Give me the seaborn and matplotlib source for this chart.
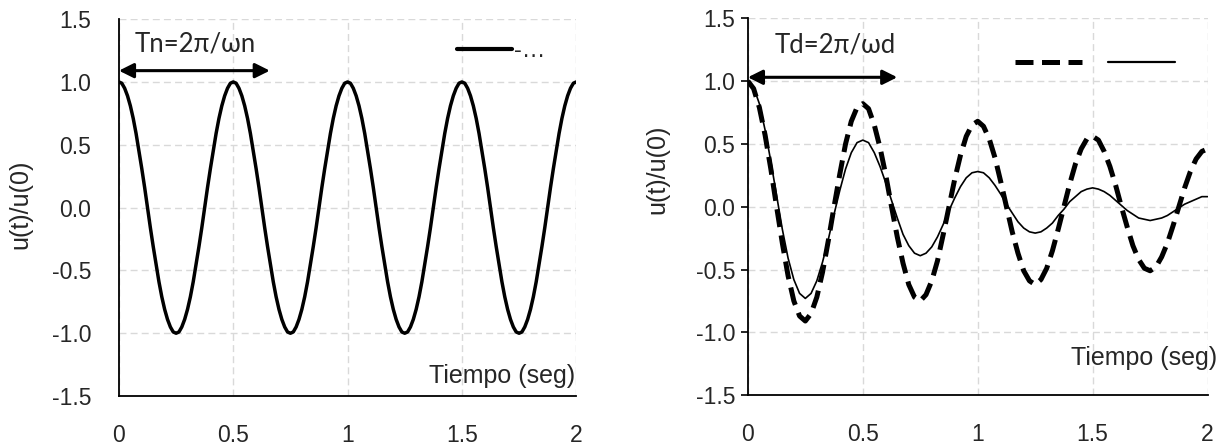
import numpy as np
import pandas as pd
import seaborn as sns
import matplotlib.pyplot as plt
from matplotlib.lines import Line2D

# time samples
tiempo_fino = np.round(np.linspace(0, 2, 161), 4)   # every 0.0125 s
tiempo = np.round(np.linspace(0, 2, 81), 3)         # every 0.025 s

# undamped free vibration (left)
u_libre = [1.00, 0.99, 0.95, 0.89, 0.81, 0.71, 0.59, 0.45, 0.31, 0.16,
           0.00, -0.16, -0.31, -0.45, -0.59, -0.71, -0.81, -0.89, -0.95, -0.99,
           -1.00, -0.99, -0.95, -0.89, -0.81, -0.71, -0.59, -0.45, -0.31, -0.16,
           0.00, 0.16, 0.31, 0.45, 0.59, 0.71, 0.81, 0.89, 0.95, 0.99,
           1.00, 0.99, 0.95, 0.89, 0.81, 0.71, 0.59, 0.45, 0.31, 0.16,
           0.00, -0.16, -0.31, -0.45, -0.59, -0.71, -0.81, -0.89, -0.95, -0.99,
           -1.00, -0.99, -0.95, -0.89, -0.81, -0.71, -0.59, -0.45, -0.31, -0.16,
           0.00, 0.16, 0.31, 0.45, 0.59, 0.71, 0.81, 0.89, 0.95, 0.99,
           1.00, 0.99, 0.95, 0.89, 0.81, 0.71, 0.59, 0.45, 0.31, 0.16,
           0.00, -0.16, -0.31, -0.45, -0.59, -0.71, -0.81, -0.89, -0.95, -0.99,
           -1.00, -0.99, -0.95, -0.89, -0.81, -0.71, -0.59, -0.45, -0.31, -0.16,
           0.00, 0.16, 0.31, 0.45, 0.59, 0.71, 0.81, 0.89, 0.95, 0.99,
           1.00, 0.99, 0.95, 0.89, 0.81, 0.71, 0.59, 0.45, 0.31, 0.16,
           0.00, -0.16, -0.31, -0.45, -0.59, -0.71, -0.81, -0.89, -0.95, -0.99,
           -1.00, -0.99, -0.95, -0.89, -0.81, -0.71, -0.59, -0.45, -0.31, -0.16,
           0.00, 0.16, 0.31, 0.45, 0.59, 0.71, 0.81, 0.89, 0.95, 0.99,
           1.00]

# lightly damped (right, dashed)
u_amort_baja = [1.00, 0.94, 0.79, 0.57, 0.30, 0.00, -0.29, -0.55, -0.75, -0.87,
                -0.91, -0.85, -0.72, -0.52, -0.27, 0.00, 0.26, 0.50, 0.68, 0.79,
                0.82, 0.78, 0.65, 0.47, 0.25, 0.00, -0.24, -0.45, -0.62, -0.72,
                -0.75, -0.70, -0.59, -0.43, -0.22, 0.00, 0.22, 0.41, 0.56, 0.65,
                0.68, 0.64, 0.54, 0.39, 0.20, 0.00, -0.20, -0.37, -0.51, -0.59,
                -0.62, -0.58, -0.49, -0.35, -0.18, 0.00, 0.18, 0.34, 0.46, 0.54,
                0.56, 0.53, 0.44, 0.32, 0.17, 0.00, -0.16, -0.31, -0.42, -0.49,
                -0.51, -0.48, -0.40, -0.29, -0.15, 0.00, 0.15, 0.28, 0.38, 0.44,
                0.46]

# more damped (right, thin solid)
u_amort_alta = [1.00, 0.95, 0.82, 0.61, 0.36, 0.09, -0.18, -0.41, -0.58, -0.69,
                -0.73, -0.69, -0.59, -0.44, -0.26, -0.06, 0.13, 0.30, 0.43, 0.51,
                0.53, 0.51, 0.43, 0.32, 0.19, 0.05, -0.09, -0.22, -0.31, -0.37,
                -0.39, -0.37, -0.32, -0.24, -0.14, -0.03, 0.07, 0.16, 0.23, 0.27,
                0.28, 0.27, 0.23, 0.17, 0.10, 0.02, -0.05, -0.12, -0.17, -0.20,
                -0.21, -0.20, -0.17, -0.13, -0.07, -0.02, 0.04, 0.08, 0.12, 0.14,
                0.15, 0.14, 0.12, 0.09, 0.05, 0.01, -0.03, -0.06, -0.09, -0.10,
                -0.11, -0.10, -0.09, -0.07, -0.04, -0.01, 0.02, 0.04, 0.06, 0.08,
                0.08]

x_ticks = [0, 0.5, 1, 1.5, 2]
x_labels = ["0", "0.5", "1", "1.5", "2"]
y_ticks = [-1.5, -1.0, -0.5, 0.0, 0.5, 1.0, 1.5]
y_labels = ["-1.5", "-1.0", "-0.5", "0.0", "0.5", "1.0", "1.5"]

sns.set_style("white")
plt.rcParams['font.family'] = ['Liberation Sans', 'DejaVu Sans']
plt.rcParams['axes.unicode_minus'] = False

fig = plt.figure(figsize=(12.26, 4.45), dpi=100)
ax1 = fig.add_axes([0.097, 0.110, 0.373, 0.847])
ax2 = fig.add_axes([0.610, 0.112, 0.375, 0.847])

df_libre = pd.DataFrame({"t": tiempo_fino, "u": u_libre})
df_amort = pd.DataFrame({"t": tiempo, "baja": u_amort_baja, "alta": u_amort_alta})

dash_style = (0, (3.6, 1.7))
sns.lineplot(data=df_libre, x="t", y="u", ax=ax1, color="black", lw=2.5)
sns.lineplot(data=df_amort, x="t", y="baja", ax=ax2, color="black", lw=3.6,
             linestyle=dash_style)
sns.lineplot(data=df_amort, x="t", y="alta", ax=ax2, color="black", lw=1.2)

annot_font = ['Lato', 'DejaVu Sans']
tick_size = 16.5

for ax in (ax1, ax2):
    ax.set_xlim(0, 2)
    ax.set_ylim(-1.5, 1.5)
    ax.set_xticks(x_ticks)
    ax.set_xticklabels(x_labels)
    ax.set_yticks(y_ticks)
    ax.set_yticklabels(y_labels)
    ax.grid(True, color="#d9d9d9", linestyle=(0, (5, 3)), lw=1)
    ax.set_axisbelow(True)
    for side in ("top", "right"):
        ax.spines[side].set_visible(False)
    for side in ("left", "bottom"):
        ax.spines[side].set_color("black")
        ax.spines[side].set_linewidth(1.3)
    ax.tick_params(axis="x", labelsize=tick_size, length=0, pad=20)
    ax.set_ylabel("u(t)/u(0)", fontsize=18)
    ax.set_xlabel("Tiempo (seg)", fontsize=18, ha="right", va="baseline")

ax1.tick_params(axis="y", labelsize=tick_size, length=0, pad=20)
ax2.tick_params(axis="y", labelsize=tick_size, length=5, width=1.2, color="black",
                direction="out", left=True, pad=4)

ax1.yaxis.set_label_coords(-0.19, 0.51)
ax2.yaxis.set_label_coords(-0.17, 0.60)
ax1.xaxis.set_label_coords(0.998, 0.034)
ax2.xaxis.set_label_coords(1.02, 0.08)

# period arrows
arrow_props = dict(arrowstyle="<|-|>", color="black", lw=2.2,
                   mutation_scale=22, shrinkA=0, shrinkB=0)
ax1.annotate("", xy=(0, 1.09), xytext=(0.66, 1.09), arrowprops=arrow_props)
ax1.text(0.07, 1.24, "Tn=2π/ωn", fontsize=18.5, family=annot_font, va="baseline")
ax2.annotate("", xy=(0, 1.03), xytext=(0.65, 1.03), arrowprops=arrow_props)
ax2.text(0.117, 1.227, "Td=2π/ωd", fontsize=18.5, family=annot_font, va="baseline")

# legends (labels truncated as in the original)
h1 = [Line2D([], [], color="black", lw=3)]
ax1.legend(h1, ["-…"], loc="center left", bbox_to_anchor=(0.74, 0.915),
           frameon=False, handlelength=2.3, fontsize=17, handletextpad=0.1,
           borderaxespad=0, borderpad=0)
h2 = [Line2D([], [], color="black", lw=3.6, linestyle=dash_style),
      Line2D([], [], color="black", lw=1.6)]
ax2.legend(h2, ["", ""], loc="center left", bbox_to_anchor=(0.58, 0.878),
           frameon=False, ncol=2, handlelength=3.45, fontsize=14,
           handletextpad=0, columnspacing=1.34, borderaxespad=0, borderpad=0)

fig.savefig("out.png", dpi=100)
